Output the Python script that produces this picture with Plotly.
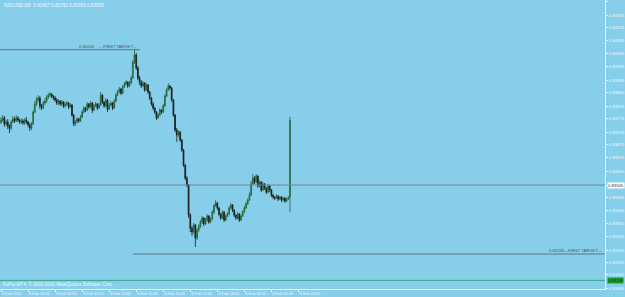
import plotly.graph_objects as go
import pandas as pd

# ---------------- data (NZDUSD M5, 8 Feb 2012) ----------------
start_time = "2012-02-08 08:25"

opens = [0.83760,0.83769,0.83777,0.83753,0.83761,0.83744,0.83736,0.83761,0.83773,0.83765,
         0.83777,0.83769,0.83761,0.83765,0.83757,0.83769,0.83761,0.83749,0.83736,0.83753,
         0.83801,0.83834,0.83850,0.83858,0.83826,0.83818,0.83838,0.83846,0.83862,0.83870,
         0.83874,0.83866,0.83858,0.83850,0.83838,0.83846,0.83834,0.83842,0.83826,0.83834,
         0.83838,0.83822,0.83830,0.83789,0.83753,0.83761,0.83773,0.83765,0.83781,0.83801,
         0.83818,0.83809,0.83834,0.83822,0.83838,0.83809,0.83826,0.83834,0.83818,0.83830,
         0.83870,0.83842,0.83826,0.83850,0.83813,0.83830,0.83838,0.83818,0.83846,0.83870,
         0.83883,0.83895,0.83878,0.83903,0.83915,0.83923,0.83907,0.83919,0.83939,0.84004,
         0.84033,0.83980,0.83939,0.83923,0.83907,0.83919,0.83891,0.83911,0.83883,0.83858,
         0.83834,0.83818,0.83801,0.83777,0.83789,0.83809,0.83801,0.83826,0.83866,0.83891,
         0.83907,0.83899,0.83850,0.83789,0.83728,0.83708,0.83720,0.83688,0.83647,0.83586,
         0.83533,0.83505,0.83383,0.83330,0.83314,0.83343,0.83290,0.83322,0.83338,0.83355,
         0.83371,0.83347,0.83363,0.83379,0.83355,0.83367,0.83395,0.83420,0.83432,0.83412,
         0.83387,0.83371,0.83395,0.83363,0.83379,0.83387,0.83412,0.83424,0.83403,0.83383,
         0.83371,0.83387,0.83363,0.83379,0.83395,0.83412,0.83428,0.83444,0.83464,0.83509,
         0.83533,0.83517,0.83541,0.83501,0.83517,0.83485,0.83509,0.83493,0.83476,0.83501,
         0.83485,0.83464,0.83456,0.83452,0.83460,0.83448,0.83456,0.83444,0.83452,0.83440,
         0.83448,0.83456]

highs = [0.83781,0.83789,0.83785,0.83769,0.83773,0.83752,0.83769,0.83785,0.83781,0.83789,
         0.83785,0.83773,0.83777,0.83773,0.83777,0.83781,0.83765,0.83757,0.83761,0.83809,
         0.83846,0.83862,0.83870,0.83866,0.83834,0.83846,0.83858,0.83870,0.83878,0.83883,
         0.83878,0.83870,0.83866,0.83858,0.83854,0.83850,0.83850,0.83846,0.83842,0.83846,
         0.83842,0.83838,0.83834,0.83793,0.83769,0.83781,0.83777,0.83789,0.83809,0.83826,
         0.83822,0.83842,0.83838,0.83846,0.83842,0.83834,0.83842,0.83838,0.83838,0.83883,
         0.83874,0.83846,0.83858,0.83854,0.83838,0.83846,0.83842,0.83854,0.83878,0.83891,
         0.83903,0.83899,0.83911,0.83923,0.83931,0.83927,0.83927,0.83948,0.84012,0.84058,
         0.84041,0.83988,0.83948,0.83931,0.83927,0.83923,0.83919,0.83915,0.83887,0.83862,
         0.83842,0.83822,0.83805,0.83797,0.83818,0.83813,0.83834,0.83874,0.83899,0.83919,
         0.83911,0.83903,0.83854,0.83793,0.83736,0.83728,0.83724,0.83692,0.83651,0.83590,
         0.83541,0.83509,0.83391,0.83338,0.83351,0.83347,0.83330,0.83347,0.83363,0.83379,
         0.83375,0.83371,0.83387,0.83383,0.83375,0.83403,0.83428,0.83444,0.83436,0.83416,
         0.83391,0.83403,0.83399,0.83387,0.83395,0.83420,0.83432,0.83428,0.83407,0.83387,
         0.83395,0.83391,0.83387,0.83403,0.83420,0.83436,0.83452,0.83476,0.83521,0.83549,
         0.83541,0.83550,0.83545,0.83525,0.83521,0.83517,0.83513,0.83497,0.83509,0.83505,
         0.83489,0.83468,0.83460,0.83468,0.83464,0.83460,0.83460,0.83456,0.83456,0.83452,
         0.83460,0.83782]

lows = [0.83752,0.83761,0.83741,0.83745,0.83732,0.83716,0.83728,0.83757,0.83757,0.83761,
        0.83761,0.83753,0.83753,0.83749,0.83749,0.83753,0.83741,0.83724,0.83728,0.83749,
        0.83797,0.83826,0.83842,0.83814,0.83809,0.83813,0.83830,0.83838,0.83854,0.83862,
        0.83858,0.83850,0.83842,0.83830,0.83830,0.83826,0.83826,0.83818,0.83818,0.83826,
        0.83813,0.83818,0.83781,0.83744,0.83744,0.83757,0.83757,0.83761,0.83777,0.83797,
        0.83801,0.83805,0.83813,0.83818,0.83797,0.83805,0.83822,0.83809,0.83813,0.83826,
        0.83834,0.83818,0.83822,0.83801,0.83809,0.83826,0.83809,0.83813,0.83842,0.83866,
        0.83878,0.83870,0.83874,0.83899,0.83911,0.83899,0.83903,0.83915,0.83935,0.83996,
        0.83972,0.83931,0.83911,0.83899,0.83903,0.83883,0.83887,0.83874,0.83850,0.83826,
        0.83809,0.83793,0.83769,0.83773,0.83785,0.83793,0.83797,0.83822,0.83862,0.83887,
        0.83891,0.83842,0.83781,0.83720,0.83680,0.83700,0.83680,0.83639,0.83578,0.83525,
        0.83497,0.83371,0.83314,0.83298,0.83306,0.83253,0.83282,0.83314,0.83330,0.83347,
        0.83338,0.83343,0.83355,0.83347,0.83351,0.83363,0.83387,0.83416,0.83403,0.83379,
        0.83363,0.83367,0.83355,0.83359,0.83375,0.83383,0.83407,0.83395,0.83375,0.83363,
        0.83367,0.83355,0.83359,0.83375,0.83391,0.83407,0.83424,0.83440,0.83460,0.83505,
        0.83509,0.83513,0.83493,0.83497,0.83476,0.83481,0.83485,0.83468,0.83472,0.83476,
        0.83456,0.83448,0.83444,0.83448,0.83440,0.83444,0.83436,0.83440,0.83432,0.83436,
        0.83444,0.83395]

closes = [0.83769,0.83777,0.83753,0.83761,0.83744,0.83736,0.83761,0.83773,0.83765,0.83777,
          0.83769,0.83761,0.83765,0.83757,0.83769,0.83761,0.83749,0.83736,0.83753,0.83801,
          0.83834,0.83850,0.83858,0.83826,0.83818,0.83838,0.83846,0.83862,0.83870,0.83874,
          0.83866,0.83858,0.83850,0.83838,0.83846,0.83834,0.83842,0.83826,0.83834,0.83838,
          0.83822,0.83830,0.83789,0.83753,0.83761,0.83773,0.83765,0.83781,0.83801,0.83818,
          0.83809,0.83834,0.83822,0.83838,0.83809,0.83826,0.83834,0.83818,0.83830,0.83870,
          0.83842,0.83826,0.83850,0.83813,0.83830,0.83838,0.83818,0.83846,0.83870,0.83883,
          0.83895,0.83878,0.83903,0.83915,0.83923,0.83907,0.83919,0.83939,0.84004,0.84033,
          0.83980,0.83939,0.83923,0.83907,0.83919,0.83891,0.83911,0.83883,0.83858,0.83834,
          0.83818,0.83801,0.83777,0.83789,0.83809,0.83801,0.83826,0.83866,0.83891,0.83907,
          0.83899,0.83850,0.83789,0.83728,0.83708,0.83720,0.83688,0.83647,0.83586,0.83533,
          0.83505,0.83383,0.83330,0.83314,0.83343,0.83290,0.83322,0.83338,0.83355,0.83371,
          0.83347,0.83363,0.83379,0.83355,0.83367,0.83395,0.83420,0.83432,0.83412,0.83387,
          0.83371,0.83395,0.83363,0.83379,0.83387,0.83412,0.83424,0.83403,0.83383,0.83371,
          0.83387,0.83363,0.83379,0.83395,0.83412,0.83428,0.83444,0.83464,0.83509,0.83533,
          0.83517,0.83541,0.83501,0.83517,0.83485,0.83509,0.83493,0.83476,0.83501,0.83485,
          0.83464,0.83456,0.83452,0.83460,0.83448,0.83456,0.83444,0.83452,0.83440,0.83448,
          0.83456,0.83767]

price_ticks = [0.84250,0.84195,0.84145,0.84090,0.84040,0.83985,0.83930,0.83880,0.83825,
               0.83775,0.83720,0.83670,0.83615,0.83560,0.83505,0.83455,0.83400,0.83350,
               0.83295,0.83240,0.83190,0.83140,0.83085]

time_tick_values = ["2012-02-08 08:25","2012-02-08 09:45","2012-02-08 11:05","2012-02-08 12:25",
                    "2012-02-08 13:45","2012-02-08 15:05","2012-02-08 16:25","2012-02-08 17:45",
                    "2012-02-08 19:05","2012-02-08 20:25","2012-02-08 21:45","2012-02-08 23:05"]
time_tick_labels = ["8 Feb 2012","8 Feb 09:45","8 Feb 11:05","8 Feb 12:25","8 Feb 13:45",
                    "8 Feb 15:05","8 Feb 16:25","8 Feb 17:45","8 Feb 19:05","8 Feb 20:25",
                    "8 Feb 21:45","8 Feb 23:05"]

target_levels = [0.84054, 0.83225]
bid_level = 0.83505
green_level = 0.83118
title_text = "NZDUSD,M5  0.83457 0.83782 0.83359 0.83509"
footer_text = "FxPro MT4, \u00a9 2001-2010 MetaQuotes Software Corp."

# ---------------- figure ----------------
times = pd.date_range(start_time, periods=len(closes), freq="5min")
bar = pd.Timedelta(minutes=5)
x0 = times[0] - 0.6 * bar
x1 = x0 + 358 * bar

BG = "#87CEEB"
LIGHT = "#eef8fc"
FONT = "Liberation Sans"

fig = go.Figure(go.Candlestick(
    x=times, open=opens, high=highs, low=lows, close=closes,
    increasing=dict(line=dict(color="#24633a", width=0.8), fillcolor="#2f8f45"),
    decreasing=dict(line=dict(color="#1b1b1b", width=0.8), fillcolor="#1b1b1b"),
    whiskerwidth=0, hoverinfo="skip", showlegend=False))

line_gray = "#5f7384"
shapes = [
    dict(type="line", xref="paper", x0=0, x1=140/605, yref="y",
         y0=target_levels[0], y1=target_levels[0], line=dict(color=line_gray, width=1)),
    dict(type="line", xref="paper", x0=133/605, x1=1, yref="y",
         y0=target_levels[1], y1=target_levels[1], line=dict(color=line_gray, width=1)),
    dict(type="line", xref="paper", x0=0, x1=1, yref="y",
         y0=bid_level, y1=bid_level, line=dict(color="#6f8796", width=1)),
    dict(type="line", xref="paper", x0=0, x1=1, yref="y",
         y0=green_level, y1=green_level, line=dict(color="#3aa884", width=1)),
]

small = dict(family=FONT, size=4.2, color="#4d5a66")
annotations = [
    dict(xref="paper", yref="y", x=97/605, y=target_levels[0], xanchor="right", yanchor="bottom",
         text=f"{target_levels[0]:.5f}", showarrow=False, font=small, yshift=-1),
    dict(xref="paper", yref="y", x=140/605, y=target_levels[0], xanchor="right", yanchor="bottom",
         text="---FIRST TARGET---", showarrow=False, font=small, yshift=-1),
    dict(xref="paper", yref="y", x=567/605, y=target_levels[1], xanchor="right", yanchor="bottom",
         text=f"{target_levels[1]:.5f}", showarrow=False, font=small, yshift=-1),
    dict(xref="paper", yref="y", x=1, y=target_levels[1], xanchor="right", yanchor="bottom",
         text="---FIRST TARGET---", showarrow=False, font=small, yshift=-1),
    dict(xref="paper", yref="y", x=1, y=bid_level, xanchor="left", yanchor="middle",
         text=f"{bid_level:.5f}", showarrow=False, bgcolor="#ffffff", borderpad=0,
         font=dict(family=FONT, size=4.2, color="#333333"), xshift=2),
    dict(xref="paper", yref="y", x=1, y=green_level, xanchor="left", yanchor="middle",
         text=f"{green_level:.5f}", showarrow=False, bgcolor="#1f9a35", borderpad=0,
         font=dict(family=FONT, size=4.2, color="#0b3312"), xshift=2),
    dict(xref="paper", yref="paper", x=0, y=1, xanchor="left", yanchor="top",
         text=title_text, showarrow=False, xshift=2, yshift=-1,
         font=dict(family=FONT, size=4.6, color=LIGHT)),
    dict(xref="paper", yref="paper", x=0, y=0, xanchor="left", yanchor="bottom",
         text=footer_text, showarrow=False, xshift=1, yshift=0,
         font=dict(family=FONT, size=4.6, color=LIGHT)),
]

fig.update_layout(
    width=625, height=297,
    margin=dict(l=0, r=20, t=0, b=8, pad=0, autoexpand=False),
    paper_bgcolor=BG, plot_bgcolor=BG,
    shapes=shapes, annotations=annotations,
    xaxis=dict(type="date", range=[x0, x1], rangeslider=dict(visible=False),
               showgrid=False, zeroline=False, showline=True, linecolor=LIGHT, linewidth=1,
               ticks="outside", ticklen=2, tickcolor=LIGHT, tickangle=0, automargin=False,
               tickvals=time_tick_values, ticktext=time_tick_labels,
               ticklabelposition="outside right",
               tickfont=dict(family=FONT, size=3.9, color=LIGHT)),
    yaxis=dict(side="right", range=[0.83083, 0.84256], showgrid=False, zeroline=False,
               showline=True, linecolor=LIGHT, linewidth=1, automargin=False,
               ticks="outside", ticklen=2, tickcolor=LIGHT,
               tickvals=price_ticks, ticktext=[f"{v:.5f}" for v in price_ticks],
               tickfont=dict(family=FONT, size=4.2, color=LIGHT)),
)

fig.write_html("out.html")
